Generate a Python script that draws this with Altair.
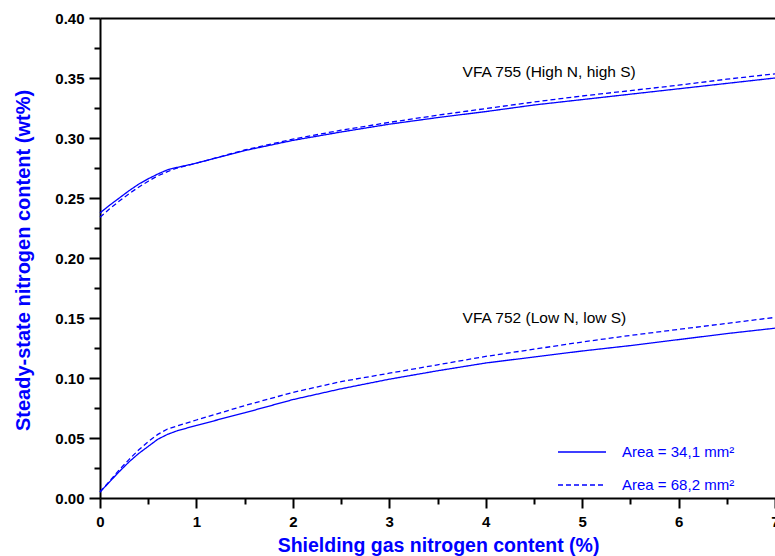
import altair as alt
import pandas as pd

# Shielding gas nitrogen content (%)
x_vals = [0, 0.1, 0.2, 0.3, 0.4, 0.5, 0.6, 0.7, 0.8, 1.0, 1.5, 2.0, 2.5, 3.0,
          3.5, 4.0, 4.5, 5.0, 5.5, 6.0, 6.5, 7.0]

# VFA 755 (High N, high S)
high_a34 = [0.2375, 0.244, 0.250, 0.256, 0.2615, 0.266, 0.270, 0.2735, 0.2755,
            0.279, 0.2895, 0.298, 0.305, 0.3115, 0.317, 0.322, 0.3275, 0.332,
            0.3365, 0.341, 0.3455, 0.350]
high_a68 = [0.234, 0.241, 0.2475, 0.2535, 0.259, 0.264, 0.2685, 0.272, 0.275,
            0.279, 0.290, 0.299, 0.3065, 0.313, 0.319, 0.3245, 0.330, 0.335,
            0.3395, 0.344, 0.349, 0.3535]

# VFA 752 (Low N, low S)
low_a34 = [0.005, 0.0135, 0.022, 0.030, 0.037, 0.043, 0.049, 0.053, 0.056,
           0.0605, 0.071, 0.082, 0.091, 0.099, 0.106, 0.1125, 0.1175, 0.1225,
           0.127, 0.132, 0.137, 0.1415]
low_a68 = [0.005, 0.014, 0.0235, 0.032, 0.040, 0.047, 0.053, 0.0575, 0.060,
           0.065, 0.077, 0.088, 0.097, 0.104, 0.111, 0.118, 0.124, 0.130,
           0.1355, 0.1405, 0.1455, 0.1505]

series_labels = ["Area = 34,1 mm²", "Area = 68,2 mm²"]
steel_names = ["VFA 755 (High N, high S)", "VFA 752 (Low N, low S)"]
label_x = [3.76, 3.76]
label_y = [0.351, 0.1456]

x_ticks = [i * 0.5 for i in range(15)]
y_ticks = [round(i * 0.025, 3) for i in range(17)]

rows = []
for steel, a34, a68 in [(steel_names[0], high_a34, high_a68),
                        (steel_names[1], low_a34, low_a68)]:
    for xv, v in zip(x_vals, a34):
        rows.append({"x": xv, "y": v, "steel": steel, "area": series_labels[0]})
    for xv, v in zip(x_vals, a68):
        rows.append({"x": xv, "y": v, "steel": steel, "area": series_labels[1]})
df = pd.DataFrame(rows)

lab_df = pd.DataFrame({"x": label_x, "y": label_y, "label": steel_names})

BLUE = "#0000ff"
FONT = "Liberation Sans"

x_scale = alt.Scale(domain=[0, 7], nice=False, zero=False)
y_scale = alt.Scale(domain=[0, 0.4], nice=False, zero=False)

y_axis = alt.Axis(
    values=y_ticks,
    labelExpr="abs(datum.value*20-round(datum.value*20))<0.001 ? format(datum.value,'.2f') : ''",
    tickSize={"condition": {"test": "abs(datum.value*20-round(datum.value*20))<0.001", "value": 11}, "value": 6},
    tickWidth=2, tickColor="black", domainWidth=2, domainColor="black",
    labelFont=FONT, labelFontWeight="bold", labelFontSize=15, labelColor="black",
    labelPadding=5, labelFlush=False, labelOverlap=False, grid=False,
    title="Steady-state nitrogen content (wt%)",
    titleFont=FONT, titleFontWeight="bold", titleFontSize=20, titleColor=BLUE,
    titleX=-67, titleY=242, titleBaseline="bottom", titleAlign="center", titleAngle=270,
)

x_axis = alt.Axis(
    orient="bottom",
    values=x_ticks,
    labelExpr="abs(datum.value-round(datum.value))<0.001 ? format(datum.value,'d') : ''",
    tickSize={"condition": {"test": "abs(datum.value-round(datum.value))<0.001", "value": 10}, "value": 6},
    tickWidth=2, tickColor="black", domainWidth=2, domainColor="black",
    labelFont=FONT, labelFontWeight="bold", labelFontSize=15, labelColor="black",
    labelPadding=6, labelFlush=False, labelOverlap=False, grid=False,
    title="Shielding gas nitrogen content (%)",
    titleFont=FONT, titleFontWeight="bold", titleFontSize=19.5, titleColor=BLUE,
    titleX=338, titleY=53, titleBaseline="alphabetic", titleAlign="center",
)

x_axis_top = alt.Axis(
    orient="top", labels=False, ticks=False, title=None, grid=False,
    domainWidth=2, domainColor="black",
)

lines = alt.Chart(df).mark_line(strokeWidth=1.3, color=BLUE).encode(
    x=alt.X("x:Q", scale=x_scale, axis=x_axis),
    y=alt.Y("y:Q", scale=y_scale, axis=y_axis),
    strokeDash=alt.StrokeDash(
        "area:N",
        scale=alt.Scale(domain=series_labels, range=[[1, 0], [5, 3]]),
        legend=alt.Legend(
            title=None, orient="none", legendX=457, legendY=409,
            symbolType="stroke", symbolSize=2304, symbolStrokeWidth=1.3,
            symbolStrokeColor=BLUE, labelColor=BLUE, labelFont=FONT,
            labelFontSize=15, labelOffset=15, rowPadding=-19, padding=0,
        ),
    ),
    detail="steel:N",
    order="x:Q",
)

labels = alt.Chart(lab_df).mark_text(
    align="left", baseline="alphabetic", font=FONT, fontSize=15.5, color="black"
).encode(
    x=alt.X("x:Q", scale=x_scale, axis=x_axis_top),
    y=alt.Y("y:Q", scale=y_scale, axis=y_axis),
    text="label:N",
)

chart = (
    alt.layer(lines, labels)
    .resolve_axis(x="independent")
    .properties(
        width=675, height=480,
        padding={"left": 100, "top": 18, "right": 0, "bottom": 58},
        autosize=alt.AutoSizeParams(type="none"),
        background="white",
    )
    .configure_view(stroke=None)
)

chart.save("out.html", embed_options={"renderer": "svg", "actions": False})
